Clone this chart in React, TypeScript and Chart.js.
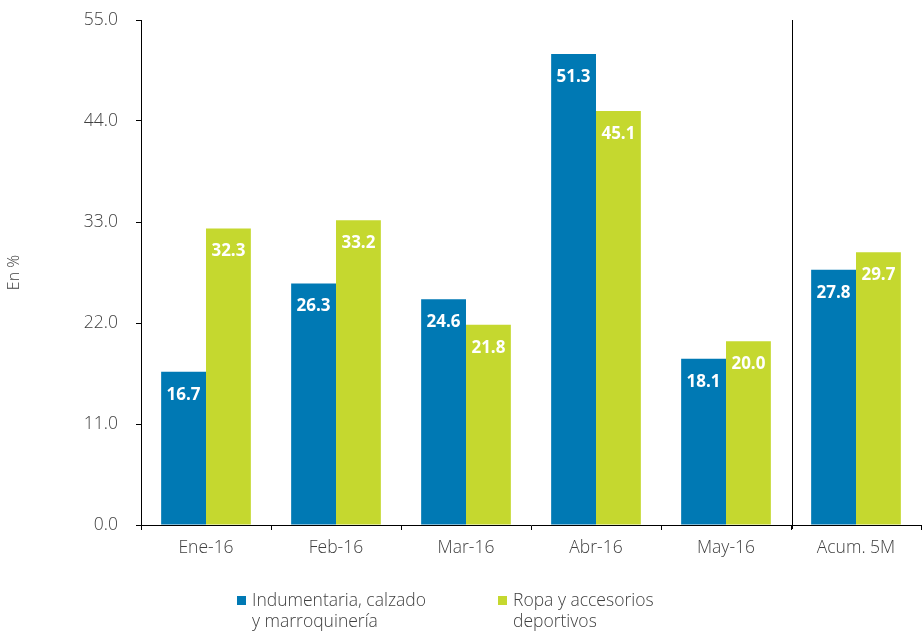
import React, { useEffect, useRef } from "react";
import { Chart, registerables } from "chart.js";

Chart.register(...registerables);

const categories = ["Ene-16", "Feb-16", "Mar-16", "Abr-16", "May-16", "Acum. 5M"];
const seriesNames = [
  ["Indumentaria, calzado", "y marroquinería"],
  ["Ropa y accesorios", "deportivos"],
];
const indumentaria = [16.7, 26.3, 24.6, 51.3, 18.1, 27.8];
const ropa = [32.3, 33.2, 21.8, 45.1, 20.0, 29.7];
const yTicks = [0, 11, 22, 33, 44, 55];

const BLUE = "#0079B4";
const GREEN = "#C5D82F";
const TEXT = "#404040";
const FONT = "'Open Sans', 'Noto Sans', sans-serif";
const FS = 17.5;

const extrasPlugin = {
  id: "extras",
  afterDatasetsDraw(chart: any) {
    const ctx = chart.ctx;
    ctx.save();
    ctx.font = `bold 17px ${FONT}`;
    ctx.fillStyle = "#ffffff";
    ctx.textAlign = "center";
    ctx.textBaseline = "middle";
    chart.data.datasets.forEach((ds: any, di: number) => {
      const meta = chart.getDatasetMeta(di);
      meta.data.forEach((bar: any, i: number) => {
        ctx.fillText(Number(ds.data[i]).toFixed(1), bar.x, bar.y + 23);
      });
    });
    ctx.restore();
  },
  afterDraw(chart: any) {
    const ctx = chart.ctx;
    const xs = chart.scales.x;
    const area = chart.chartArea;
    const n = categories.length;
    const sepX = Math.round((xs.getPixelForValue(n - 2) + xs.getPixelForValue(n - 1)) / 2) + 1.5;
    ctx.save();
    ctx.strokeStyle = "#000";
    ctx.lineWidth = 1;
    ctx.beginPath();
    ctx.moveTo(sepX, area.top);
    ctx.lineTo(sepX, area.bottom + 4);
    ctx.stroke();
    ctx.restore();

    ctx.save();
    ctx.font = `300 ${FS}px ${FONT}`;
    ctx.textBaseline = "middle";
    ctx.textAlign = "left";
    const colors = [BLUE, GREEN];
    const itemX = [237, 498];
    const y0 = 601;
    seriesNames.forEach((lines, i) => {
      ctx.fillStyle = colors[i];
      ctx.fillRect(itemX[i], y0 - 5, 9, 9);
      ctx.fillStyle = TEXT;
      lines.forEach((line, li) => {
        ctx.fillText(line, itemX[i] + 15, y0 + li * 21);
      });
    });
    ctx.restore();
  },
};

export default function App() {
  const ref = useRef<HTMLCanvasElement | null>(null);
  useEffect(() => {
    if (!ref.current) return;
    const chart = new Chart(ref.current, {
      type: "bar",
      data: {
        labels: categories,
        datasets: [
          {
            label: seriesNames[0].join(" "),
            data: indumentaria,
            backgroundColor: BLUE,
            categoryPercentage: 0.69,
            barPercentage: 1,
          },
          {
            label: seriesNames[1].join(" "),
            data: ropa,
            backgroundColor: GREEN,
            categoryPercentage: 0.69,
            barPercentage: 1,
          },
        ],
      },
      options: {
        animation: false,
        responsive: false,
        maintainAspectRatio: false,
        layout: { padding: { left: 0, right: 1, top: 20, bottom: 0 } },
        plugins: {
          legend: { display: false },
          tooltip: { enabled: false },
        },
        scales: {
          x: {
            grid: {
              display: true,
              drawOnChartArea: false,
              drawTicks: true,
              tickLength: 5,
              color: "#000",
              offset: true,
            },
            border: { display: true, color: "#000", width: 1 },
            ticks: {
              color: TEXT,
              font: { family: FONT, size: FS, weight: "300" },
              padding: 8,
              maxRotation: 0,
            },
            afterFit(scale: any) {
              scale.height = 109;
            },
          },
          y: {
            min: 0,
            max: 55,
            afterBuildTicks(scale: any) {
              scale.ticks = yTicks.map((v) => ({ value: v }));
            },
            grid: {
              display: true,
              drawOnChartArea: false,
              drawTicks: true,
              tickLength: 5,
              color: "#000",
            },
            border: { display: true, color: "#000", width: 1 },
            ticks: {
              color: TEXT,
              font: { family: FONT, size: FS, weight: "300" },
              padding: 18,
              callback: (v: any) => Number(v).toFixed(1),
            },
            title: {
              display: true,
              text: "En %",
              color: TEXT,
              font: { family: FONT, size: 16, weight: "300" },
              padding: { top: 5, bottom: 0 },
            },
            afterFit(scale: any) {
              scale.width = 141;
              scale.paddingTop = 0;
              scale.paddingBottom = 0;
            },
          },
        },
      },
      plugins: [extrasPlugin],
    });
    return () => chart.destroy();
  }, []);
  return (
    <div style={{ position: "absolute", left: 0, top: 0, width: 922, height: 634, background: "#fff" }}>
      <canvas ref={ref} width={922} height={634} style={{ width: 922, height: 634 }} />
    </div>
  );
}
